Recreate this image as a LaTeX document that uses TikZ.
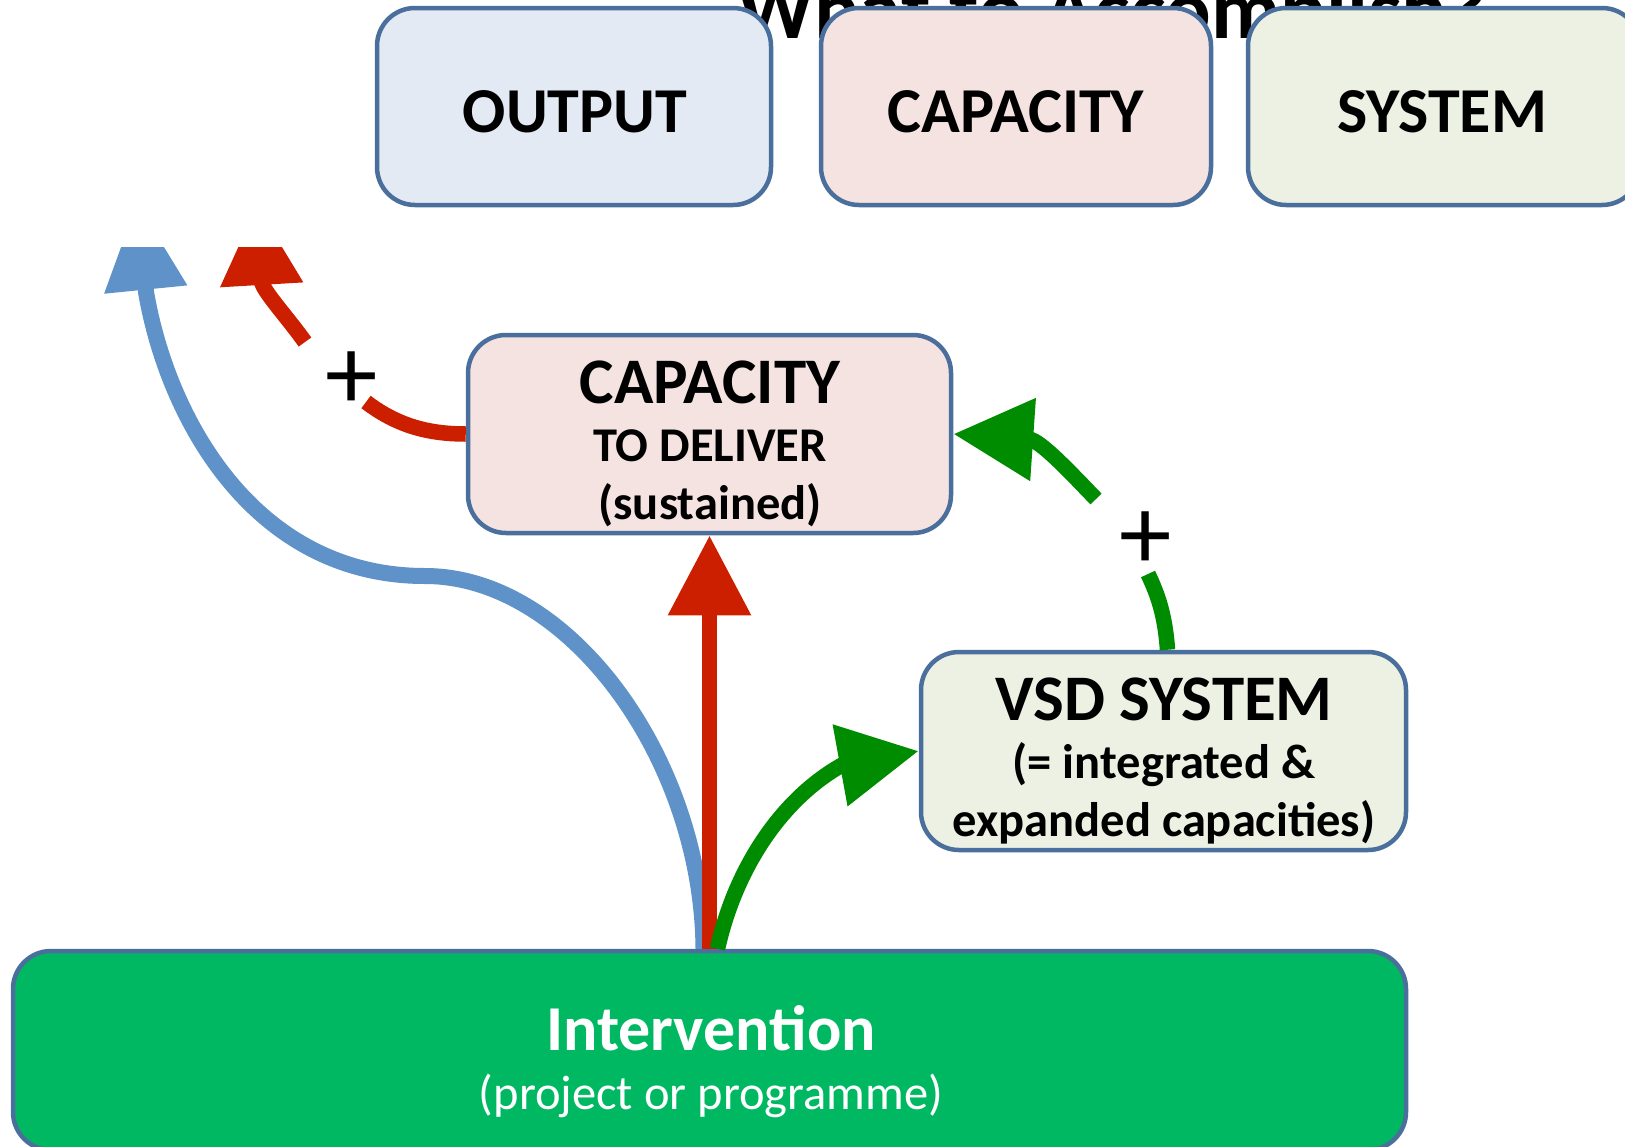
\documentclass[tikz,border=0pt]{standalone}
\usepackage{fontspec}
\setmainfont{Carlito}
\usetikzlibrary{arrows.meta}

\definecolor{edgeblue}{HTML}{4A6F9C}
\definecolor{outfill}{HTML}{E3EAF4}
\definecolor{capfill}{HTML}{F4E3E1}
\definecolor{sysfill}{HTML}{EDF1E3}
\definecolor{ivfill}{HTML}{00B862}
\definecolor{flowblue}{HTML}{5E92C8}
\definecolor{flowred}{HTML}{CC1F00}
\definecolor{flowgreen}{HTML}{008C00}

\begin{document}
\begin{tikzpicture}[x=1pt,y=-1pt,
  box/.style={draw=edgeblue, line width=4.5pt, rounded corners=38pt, inner sep=0pt},
  bigtxt/.style={font=\fontsize{64}{70}\selectfont\bfseries, inner sep=0pt},
  multitxt/.style={font=\fontsize{48.5}{58}\selectfont\bfseries, align=center, inner sep=0pt},
  plus/.style={font=\fontsize{105}{105}\selectfont, inner sep=0pt},
  tip/.style={-{Triangle[length=#1,width=79pt]}},
  tip/.default=80pt,
  blueflow/.style={draw=flowblue, line width=16pt},
  redflow/.style={draw=flowred, line width=15.5pt},
  greenflow/.style={draw=flowgreen, line width=15.5pt}]
\useasboundingbox (0,0) rectangle (1625,1146);
\clip (0,0) rectangle (1625,1146);

% heading, partly hidden behind the category boxes
\node[font=\fontsize{85}{90}\selectfont\bfseries, anchor=base, inner sep=0pt] (heading) at (1112,38) {What to Accomplish?};

% category boxes along the top
\node[box, fill=outfill, minimum width=394pt, minimum height=197pt] (outbox) at (574,106.5) {};
\node[box, fill=capfill, minimum width=390pt, minimum height=197pt] (capbox) at (1016,106.5) {};
\node[box, fill=sysfill, minimum width=392pt, minimum height=197pt] (sysbox) at (1444,106.5) {};
\node[bigtxt] (outlbl) at (575,112) {OUTPUT};
\node[bigtxt] (caplbl) at (1016,112) {CAPACITY};
\node[bigtxt] (syslbl) at (1442,112) {SYSTEM};

% capacity to deliver
\node[box, fill=capfill, minimum width=483pt, minimum height=198pt] (capd) at (709.5,434) {};
\node[multitxt] (capdlbl) at (710,444) {{\fontsize{65}{58}\selectfont CAPACITY}\\TO DELIVER\\(sustained)};

% VSD system
\node[box, fill=sysfill, minimum width=485pt, minimum height=198pt] (vsd) at (1163.5,751) {};
\node[multitxt] (vsdlbl) at (1164,761) {{\fontsize{65}{58}\selectfont VSD SYSTEM}\\(= integrated \&\\expanded capacities)};

% intervention
\node[box, fill=ivfill, minimum width=1393pt, minimum height=199pt] (iv) at (709.5,1050.5) {};
\node[multitxt, text=white, font=\fontsize{48.5}{59}\selectfont] (ivlbl) at (711,1062) {{\fontsize{64}{59}\selectfont\bfseries Intervention}\\(project or programme)};

% free ends, bends and gaps of the connectors
\coordinate (bluebend) at (425,576);
\coordinate (bluehead) at (146,292);
\coordinate (bluetip) at (137,202);
\coordinate (redtip) at (257,205);
\coordinate (redA) at (366,402);
\coordinate (redB) at (305,342);
\coordinate (grnA) at (1148,574);
\coordinate (grnB) at (1096,499);
\coordinate (vsdhead) at (842,765);

% plus signs
\node[plus] (plusred) at (352,381) {+};
\node[plus] (plusgrn) at (1146,541) {+};

% connectors leaving the figure at the top left
\begin{scope}
  \clip (0,247) rectangle (1625,1146);
  \draw[blueflow, tip=88pt] ([xshift=-6pt]iv.north) .. controls (702,760) and (570,576) .. (bluebend)
        .. controls (255,576) and (168,420) .. (bluehead) -- (bluetip);
  \draw[redflow, tip] (redB) .. controls (288,318) and (262,290) .. (redtip);
\end{scope}
\draw[redflow] (capd.west) .. controls (425,434) and (395,424) .. (redA);

% intervention to capacity and to system
\draw[redflow, tip] (iv.north) -- (capd.south);
\draw[greenflow, tip] ([xshift=8pt]iv.north) .. controls (735,870) and (780,800) .. (vsdhead) -- (vsd.west);

% system back to capacity
\draw[greenflow] ([xshift=4pt]vsd.north) .. controls (1165,615) and (1158,595) .. (grnA);
\draw[greenflow, tip] (grnB) .. controls (1070,472) and (1040,440) .. (capd.east);
\end{tikzpicture}
\end{document}
